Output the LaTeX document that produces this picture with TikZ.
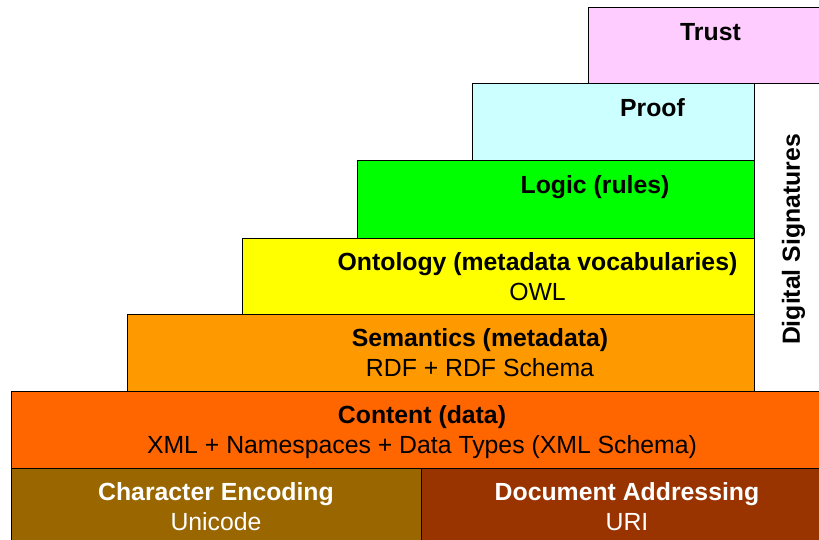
\documentclass[tikz,border=0pt]{standalone}
\usepackage{fontspec}
\setmainfont{Liberation Sans}
\definecolor{ctrust}{HTML}{FFCCFF}
\definecolor{cproof}{HTML}{CCFFFF}
\definecolor{clogic}{HTML}{00FF00}
\definecolor{conto}{HTML}{FFFF00}
\definecolor{csem}{HTML}{FF9900}
\definecolor{ccont}{HTML}{FF6600}
\definecolor{cchar}{HTML}{996600}
\definecolor{cdoc}{HTML}{993300}
\tikzset{
  layer/.style={draw=black, line width=1pt, anchor=north west, inner sep=0pt, outer sep=0pt},
  ttl/.style={anchor=base, inner sep=0pt, font=\fontsize{24.8}{30}\selectfont\bfseries},
  sub/.style={anchor=base, inner sep=0pt, font=\fontsize{24.8}{30}\selectfont}
}
\begin{document}
\begin{tikzpicture}[x=1pt, y=-1pt]
\clip (0,0) rectangle (819,540);
\fill[white] (0,0) rectangle (819,540);
% layers
\node[layer, fill=ctrust, minimum width=245, minimum height=76] (trust) at (588,8) {};
\node[layer, fill=cproof, minimum width=361, minimum height=77] (proof) at (472,84) {};
\node[layer, fill=clogic, minimum width=476, minimum height=77] (logic) at (357,161) {};
\node[layer, fill=conto, minimum width=591, minimum height=76] (onto) at (242,238) {};
\node[layer, fill=csem, minimum width=706, minimum height=77] (sem) at (127,314) {};
\node[layer, fill=white, minimum width=79, minimum height=307] (dsig) at (754,84) {};
\node[layer, fill=ccont, minimum width=822, minimum height=77] (cont) at (11,391) {};
\node[layer, fill=cchar, minimum width=410, minimum height=80] (char) at (11,468) {};
\node[layer, fill=cdoc, minimum width=412, minimum height=80] (doc) at (421,468) {};
% texts
\node[ttl] (trustT) at (710.5,40.5) {Trust};
\node[ttl] (proofT) at (652.5,116.5) {Proof};
\node[ttl] (logicT) at (595,193.5) {Logic (rules)};
\node[ttl] (ontoT) at (537.5,270.5) {Ontology (metadata vocabularies)};
\node[sub] (ontoS) at (537.5,300) {OWL};
\node[ttl] (semT) at (480,346.5) {Semantics (metadata)};
\node[sub] (semS) at (480,376) {RDF + RDF Schema};
\node[ttl] (contT) at (422,423.5) {Content (data)};
\node[sub] (contS) at (422,453) {XML + Namespaces + Data Types (XML Schema)};
\node[ttl, text=white] (charT) at (216,500.5) {Character Encoding};
\node[sub, text=white] (charS) at (216,530) {Unicode};
\node[ttl, text=white] (docT) at (627,500.5) {Document Addressing};
\node[sub, text=white] (docS) at (627,530) {URI};
\node[rotate=90, inner sep=0pt, font=\fontsize{24.8}{30}\selectfont\bfseries] (dsigT) at ([yshift=-2pt]dsig.center) {Digital Signatures};
\end{tikzpicture}
\end{document}
